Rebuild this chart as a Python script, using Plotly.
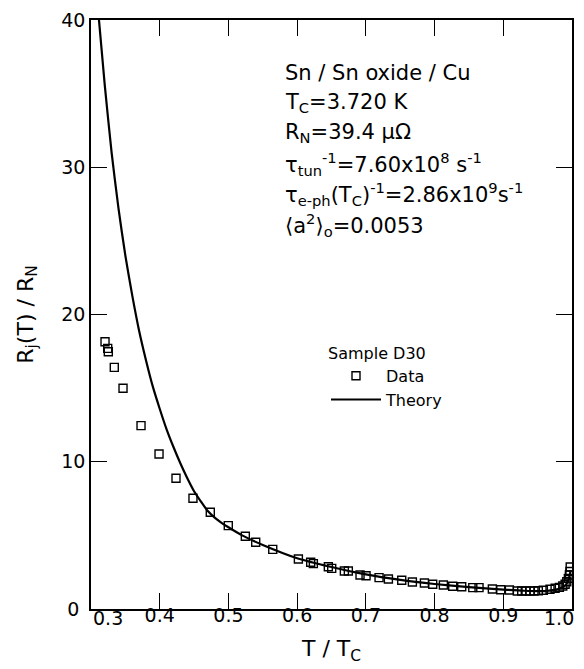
import plotly.graph_objects as go

# Measured data (T/Tc, Rj/RN)
data_x = [0.3204, 0.3243, 0.3252, 0.3339, 0.3466, 0.3728, 0.3990, 0.4237, 0.4484, 0.4736,
          0.4998, 0.5246, 0.5397, 0.5645, 0.6018, 0.6197, 0.6236, 0.6454, 0.6503, 0.6687,
          0.6745, 0.6915, 0.7003, 0.7192, 0.7328, 0.7522, 0.7677, 0.7852, 0.7973, 0.8128,
          0.8264, 0.8395, 0.8556, 0.8647, 0.8841, 0.8963, 0.9089, 0.9204, 0.9268, 0.9331,
          0.9389, 0.9447, 0.9510, 0.9583, 0.9680, 0.9754, 0.9816, 0.9866, 0.9900, 0.9924,
          0.9947, 0.9962, 0.9970, 0.9974]
data_y = [18.15, 17.70, 17.47, 16.41, 14.99, 12.45, 10.53, 8.88, 7.52, 6.57,
          5.66, 4.94, 4.53, 4.05, 3.40, 3.17, 3.08, 2.87, 2.76, 2.58,
          2.58, 2.31, 2.26, 2.13, 2.04, 1.95, 1.83, 1.77, 1.68, 1.63,
          1.54, 1.51, 1.45, 1.45, 1.36, 1.31, 1.29, 1.22, 1.22, 1.22,
          1.22, 1.22, 1.24, 1.27, 1.34, 1.41, 1.47, 1.56, 1.68, 1.85,
          2.08, 2.31, 2.55, 2.85]

# Theory curve
theory_x = [0.3116, 0.320, 0.330, 0.340, 0.350, 0.360, 0.370, 0.380, 0.390, 0.400,
            0.410, 0.420, 0.430, 0.440, 0.450, 0.460, 0.470, 0.480, 0.490, 0.500,
            0.520, 0.550, 0.600, 0.650, 0.700, 0.750, 0.800, 0.850, 0.900, 0.930,
            0.960, 0.980, 0.990, 0.995, 0.998]
theory_y = [40.0, 35.6, 31.0, 27.2, 24.0, 21.3, 18.9, 16.9, 15.1, 13.6,
            12.2, 11.0, 9.9, 8.9, 8.0, 7.3, 6.65, 6.2, 5.85, 5.55,
            5.0, 4.35, 3.45, 2.85, 2.35, 1.98, 1.70, 1.48, 1.32, 1.24,
            1.22, 1.35, 1.60, 2.00, 2.60]

x_ticks = [0.3, 0.4, 0.5, 0.6, 0.7, 0.8, 0.9, 1.0]
x_labels = ["0.3", "0.4", "0.5", "0.6", "0.7", "0.8", "0.9", "1.0"]
y_ticks = [0, 10, 20, 30, 40]
y_ticktext = ["0\u00a0", "10", "20", "30", "40"]

info_lines = [
    "Sn / Sn oxide / Cu",
    "T<sub>C</sub>=3.720 K",
    "R<sub>N</sub>=39.4 μΩ",
    "τ<sub>tun</sub><sup>-1</sup>=7.60x10<sup>8</sup> s<sup>-1</sup>",
    "τ<sub>e-ph</sub>(T<sub>C</sub>)<sup>-1</sup>=2.86x10<sup>9</sup>s<sup>-1</sup>",
    "⟨a<sup>2</sup>⟩<sub>o</sub>=0.0053",
]

FONT = "DejaVu Sans"
TICKFONT = dict(family=FONT, size=19, color="black")

fig = go.Figure()
fig.add_trace(go.Scatter(
    x=data_x, y=data_y, mode="markers", name="Data",
    marker=dict(symbol="square-open", size=8, color="black", line=dict(width=1.4, color="black")),
))
fig.add_trace(go.Scatter(
    x=theory_x, y=theory_y, mode="lines", name="Theory",
    line=dict(color="black", width=2.2, shape="spline", smoothing=0.6),
))

axis_common = dict(
    showline=True, linecolor="black", linewidth=1.5, mirror="ticks",
    ticks="inside", ticklen=16, tickwidth=1.2, tickcolor="black",
    showgrid=False, zeroline=False, automargin=False,
    tickfont=TICKFONT,
)

# end labels of the x axis are drawn as annotations (offset inward like the original)
x_ticktext = [""] + x_labels[1:-1] + [""]
fig.update_xaxes(range=[0.3, 1.0], tickvals=x_ticks, ticktext=x_ticktext,
                 ticklabelstandoff=-12,
                 title=dict(text="T / T<sub>C</sub>", font=dict(family=FONT, size=22, color="black"), standoff=16),
                 **axis_common)
fig.update_yaxes(range=[0, 40], tickvals=y_ticks, ticktext=y_ticktext,
                 title=dict(text="R<sub>j</sub>(T) / R<sub>N</sub>", font=dict(family=FONT, size=22, color="black"), standoff=22),
                 **axis_common)

fig.add_annotation(text=x_labels[0], xref="x", x=x_ticks[0], yref="paper", y=0,
                   xanchor="left", yanchor="top", xshift=0, yshift=4,
                   showarrow=False, font=TICKFONT)
fig.add_annotation(text=x_labels[-1], xref="x", x=x_ticks[-1], yref="paper", y=0,
                   xanchor="right", yanchor="top", xshift=4, yshift=4,
                   showarrow=False, font=TICKFONT)

line_y_px = [73, 103, 133, 164, 194, 225]
for txt, ypx in zip(info_lines, line_y_px):
    fig.add_annotation(
        text=txt, xref="paper", yref="paper",
        x=(283 - 91) / 481, y=(609 - ypx) / 589,
        xanchor="left", yanchor="middle", showarrow=False,
        font=dict(family=FONT, size=21, color="black"),
    )

fig.update_layout(
    width=584, height=669,
    margin=dict(l=91, r=12, t=20, b=60),
    paper_bgcolor="white", plot_bgcolor="white",
    showlegend=True,
    legend=dict(
        x=(326 - 91) / 481, y=(609 - 338) / 589, xanchor="left", yanchor="top",
        bgcolor="rgba(0,0,0,0)", borderwidth=0,
        title=dict(text="Sample D30", font=dict(family=FONT, size=16, color="black")),
        font=dict(family=FONT, size=16, color="black"),
        itemwidth=50,
    ),
)

fig.write_html("out.html", config={"displayModeBar": False},
               post_script="document.body.style.margin='0';document.body.style.padding='0';")
